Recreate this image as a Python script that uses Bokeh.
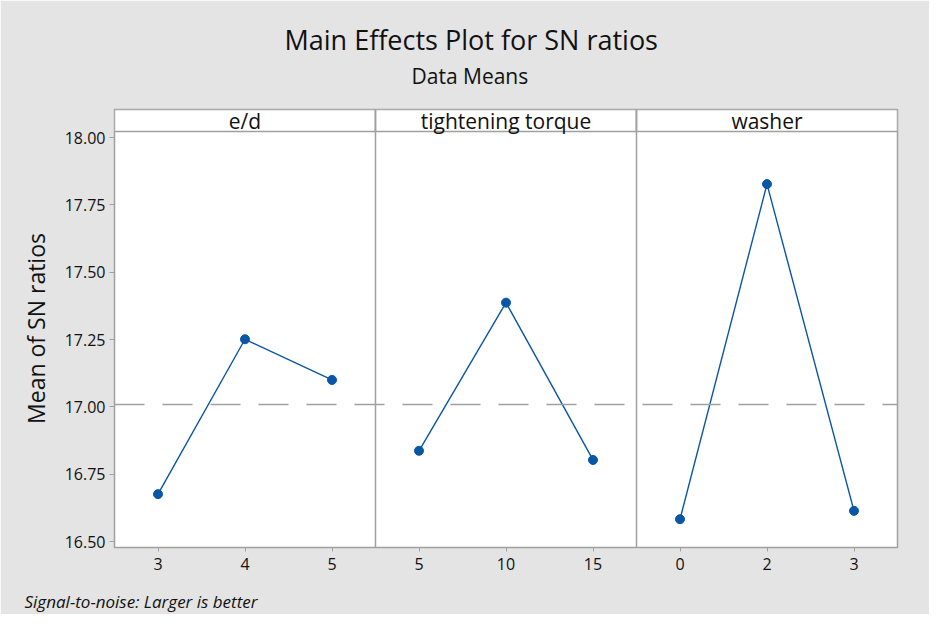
from bokeh.plotting import figure
from bokeh.models import FactorRange, Range1d, Span, Title, FixedTicker, NumeralTickFormatter
from bokeh.core.properties import value
from bokeh.embed import file_html
from bokeh.resources import INLINE

# ---------------- data ----------------
groups = ["e/d", "tightening torque", "washer"]
ed_levels = ["3", "4", "5"]
torque_levels = ["5", "10", "15"]
washer_levels = ["0", "2", "3"]
ed_means = [16.676, 17.251, 17.100]
torque_means = [16.837, 17.387, 16.803]
washer_means = [16.583, 17.827, 16.614]
y_ticks = [16.50, 16.75, 17.00, 17.25, 17.50, 17.75, 18.00]

title_text = "Main Effects Plot for SN ratios"
subtitle_text = "Data Means"
y_label = "Mean of SN ratios"
footer_text = "Signal-to-noise: Larger is better"

# axis extents (data area + strip header area above it)
Y_MIN, Y_DATA_MAX, Y_MAX = 16.478, 18.022, 18.104

# ---------------- style ----------------
FONT = "Open Sans"
BLUE = "#0a56a6"
GRAY = "#a0a0a0"
BG = "#e4e4e4"
TXT = "#111111"

all_levels = [ed_levels, torque_levels, washer_levels]
all_means = [ed_means, torque_means, washer_means]
factors = [(g, lv) for g, lvls in zip(groups, all_levels) for lv in lvls]

p = figure(
    title=None,
    x_range=FactorRange(*factors, factor_padding=0, group_padding=0, range_padding=0),
    y_range=Range1d(Y_MIN, Y_MAX),
    width=929, height=614,
    output_backend="svg", toolbar_location=None,
    min_border_left=114, min_border_right=32, min_border_top=109, min_border_bottom=67,
)
p.background_fill_color = "white"
p.border_fill_color = BG
p.outline_line_color = GRAY
p.outline_line_width = 1.5
p.xgrid.visible = False
p.ygrid.visible = False

# strip headers
strip_mid = (Y_DATA_MAX + Y_MAX) / 2
strip_h = Y_MAX - Y_DATA_MAX
p.rect(x=groups, y=[strip_mid] * len(groups), width=[len(l) for l in all_levels],
       height=strip_h, fill_color="white", line_color=GRAY, line_width=1.5)
p.text(x=groups, y=[strip_mid] * len(groups), text=groups, text_align="center",
       text_baseline="middle", text_font=value(FONT), text_font_size="21px", text_color=TXT)

# panel dividers
pos = 0
for lvls in all_levels[:-1]:
    pos += len(lvls)
    p.add_layout(Span(location=pos, dimension="height", line_color=GRAY, line_width=1.5))

# grand mean reference line
all_vals = [v for m in all_means for v in m]
grand_mean = sum(all_vals) / len(all_vals)
p.add_layout(Span(location=grand_mean, dimension="width", line_color=GRAY,
                  line_width=1.5, line_dash="30 18"))

# main effects lines
for g, lvls, means in zip(groups, all_levels, all_means):
    xs = [(g, lv) for lv in lvls]
    p.line(xs, means, line_color=BLUE, line_width=1.4)
    p.scatter(xs, means, size=9, color=BLUE, marker="circle")

# axes
p.xaxis.major_label_text_font = FONT
p.xaxis.major_label_text_font_size = "16px"
p.xaxis.major_label_text_color = TXT
p.xaxis.group_text_font_size = "0px"
p.xaxis.group_text_alpha = 0
p.xaxis.separator_line_alpha = 0
p.xaxis.axis_line_color = None
p.xaxis.major_tick_line_color = GRAY
p.xaxis.major_tick_out = 4
p.xaxis.major_tick_in = 0
p.xaxis.major_label_standoff = 6

p.yaxis.ticker = FixedTicker(ticks=y_ticks)
p.yaxis.formatter = NumeralTickFormatter(format="0.00")
p.yaxis.minor_tick_line_color = None
p.yaxis.axis_line_color = None
p.yaxis.major_tick_line_color = GRAY
p.yaxis.major_tick_out = 5
p.yaxis.major_tick_in = 0
p.yaxis.major_label_standoff = 4
p.yaxis.major_label_text_font = FONT
p.yaxis.major_label_text_font_size = "16px"
p.yaxis.major_label_text_color = TXT
p.yaxis.axis_label = y_label
p.yaxis.axis_label_text_font = FONT
p.yaxis.axis_label_text_font_style = "normal"
p.yaxis.axis_label_text_font_size = "23px"
p.yaxis.axis_label_text_color = TXT
p.yaxis.axis_label_standoff = 10

# titles (first added "above" sits closest to the frame) and footer
p.add_layout(Title(text=subtitle_text, align="left", offset=297, standoff=0,
                   padding=dict(left=0, right=0, top=0, bottom=20),
                   text_font=FONT, text_font_size="21px", text_font_style="normal",
                   text_color=TXT), "above")
p.add_layout(Title(text=title_text, align="left", offset=170, standoff=4,
                   text_font=FONT, text_font_size="27px", text_font_style="normal",
                   text_color=TXT), "above")
p.add_layout(Title(text=footer_text, align="left", offset=-90, standoff=0,
                   vertical_align="top", padding=dict(left=0, right=0, top=17, bottom=0),
                   text_font=FONT, text_font_size="17px", text_font_style="italic",
                   text_color=TXT), "below")

open("out.html", "w").write(file_html(p, INLINE))
